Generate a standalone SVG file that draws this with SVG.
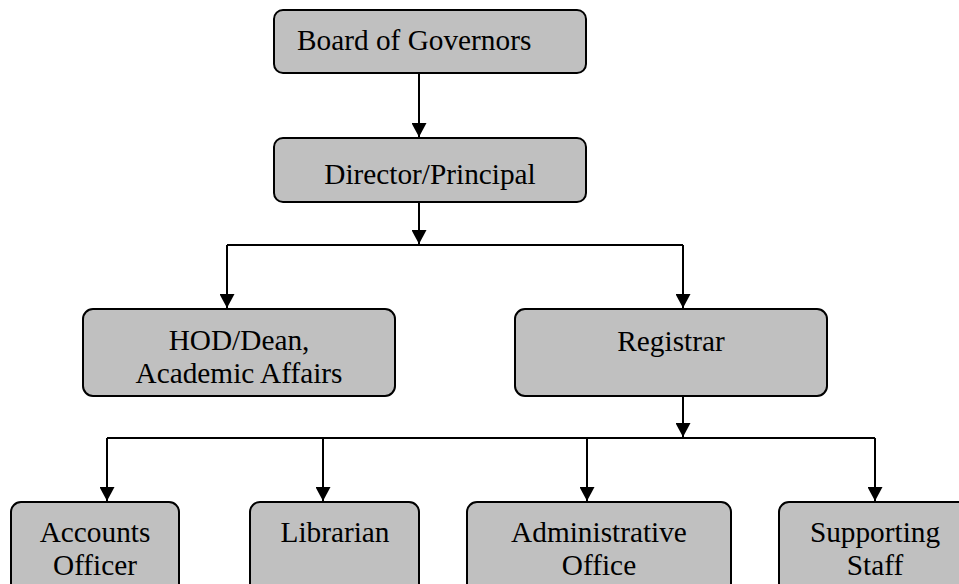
<svg xmlns="http://www.w3.org/2000/svg" width="959" height="584" viewBox="0 0 959 584">
<defs>
<style>
.box{fill:#c0c0c0;stroke:#000;stroke-width:2}
text{font-family:'Liberation Serif','DejaVu Serif',serif;font-size:29.3px;fill:#000;text-anchor:middle}
.c{fill:none;stroke:#000;stroke-width:2}
</style>
<marker id="ah" markerUnits="userSpaceOnUse" markerWidth="16" markerHeight="15" refX="14" refY="7.5" orient="auto">
<path d="M0,0 L14,7.5 L0,15 Z" fill="#000"/>
</marker>
</defs>
<rect width="959" height="584" fill="#fff"/>
<g id="connectors">
<path class="c" d="M419,73 V137" marker-end="url(#ah)"/>
<path class="c" d="M419,202 V244" marker-end="url(#ah)"/>
<path class="c" d="M227,245 H683"/>
<path class="c" d="M227,245 V308" marker-end="url(#ah)"/>
<path class="c" d="M683,245 V308" marker-end="url(#ah)"/>
<path class="c" d="M683,396 V437" marker-end="url(#ah)"/>
<path class="c" d="M107,438 H875"/>
<path class="c" d="M107,438 V501" marker-end="url(#ah)"/>
<path class="c" d="M323,438 V501" marker-end="url(#ah)"/>
<path class="c" d="M587,438 V501" marker-end="url(#ah)"/>
<path class="c" d="M875,438 V501" marker-end="url(#ah)"/>
</g>
<g id="board">
<rect class="box" x="274" y="10" width="312" height="63" rx="9"/>
<text x="297" y="50" style="text-anchor:start">Board of Governors</text>
</g>
<g id="director">
<rect class="box" x="274" y="138" width="312" height="64" rx="9"/>
<text x="430" y="184">Director/Principal</text>
</g>
<g id="hod">
<rect class="box" x="83" y="309" width="312" height="87" rx="10"/>
<text x="239" y="350">HOD/Dean,</text>
<text x="239" y="383">Academic Affairs</text>
</g>
<g id="registrar">
<rect class="box" x="515" y="309" width="312" height="87" rx="10"/>
<text x="671" y="351">Registrar</text>
</g>
<g id="accounts">
<rect class="box" x="11" y="502" width="168" height="100" rx="10"/>
<text x="95" y="542">Accounts</text>
<text x="95" y="575">Officer</text>
</g>
<g id="librarian">
<rect class="box" x="250" y="502" width="169" height="100" rx="10"/>
<text x="335" y="542">Librarian</text>
</g>
<g id="admin">
<rect class="box" x="467" y="502" width="264" height="100" rx="10"/>
<text x="599" y="542">Administrative</text>
<text x="599" y="575">Office</text>
</g>
<g id="supporting">
<rect class="box" x="779" y="502" width="192" height="100" rx="10"/>
<text x="875" y="542">Supporting</text>
<text x="875" y="575">Staff</text>
</g>
</svg>
